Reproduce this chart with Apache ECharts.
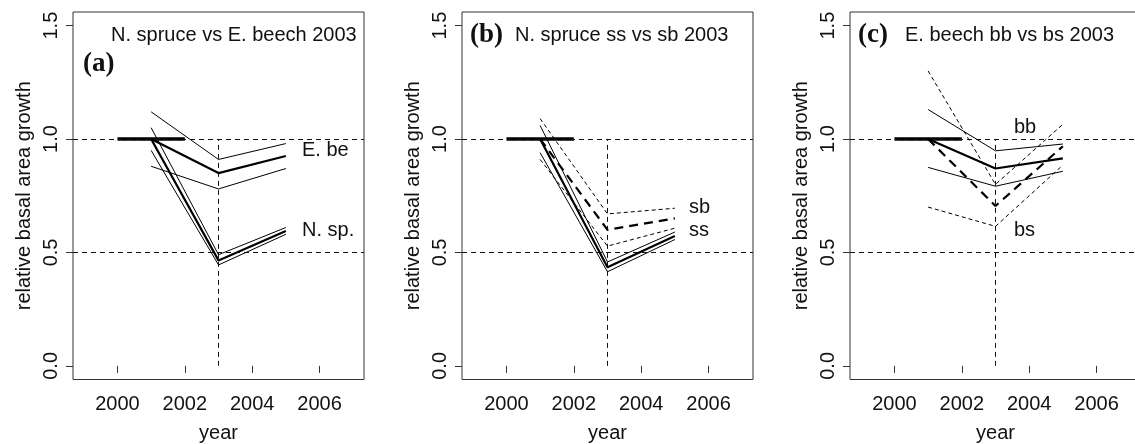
<!DOCTYPE html>
<html>
<head>
<meta charset="utf-8">
<script src="https://cdn.jsdelivr.net/npm/echarts@6/dist/echarts.min.js"></script>
<style>
html,body{margin:0;padding:0;background:#fff;}
#chart{width:1135px;height:444px;}
</style>
</head>
<body>
<div id="chart"></div>
<script>
// ---- data ----
const years = [2001, 2003, 2005];
const baseYears = [2000, 2002];
const baseValues = [1.0, 1.0];
const dropYear = 2003;
const refLevels = [1.0, 0.5];
const xTicks = [2000, 2002, 2004, 2006];
const yTicks = [0.0, 0.5, 1.0, 1.5];

// (a) N. spruce vs E. beech
const aBeechMean  = [1.00, 0.850, 0.925];
const aBeechUpper = [1.12, 0.910, 0.980];
const aBeechLower = [0.88, 0.780, 0.870];
const aSpruceMean  = [1.00, 0.465, 0.595];
const aSpruceUpper = [1.05, 0.490, 0.610];
const aSpruceLower = [0.95, 0.445, 0.580];

// (b) N. spruce ss vs sb
const bSsMean  = [1.00, 0.435, 0.573];
const bSsUpper = [1.06, 0.458, 0.590];
const bSsLower = [0.94, 0.415, 0.557];
const bSbMean  = [1.00, 0.600, 0.650];
const bSbUpper = [1.09, 0.670, 0.695];
const bSbLower = [0.91, 0.528, 0.607];

// (c) E. beech bb vs bs
const cBbMean  = [1.00, 0.870, 0.915];
const cBbUpper = [1.13, 0.948, 0.978];
const cBbLower = [0.875, 0.792, 0.858];
const cBsMean  = [1.00, 0.705, 0.968];
const cBsUpper = [1.30, 0.800, 1.065];
const cBsLower = [0.70, 0.615, 0.885];

const panelTitles = ['N. spruce vs E. beech 2003', 'N. spruce ss vs sb 2003', 'E. beech bb vs bs 2003'];
const panelTags = ['(a)', '(b)', '(c)'];
const xName = 'year';
const yName = 'relative basal area growth';

// ---- chart ----
const FONT = '"Liberation Sans", Arial, Helvetica, sans-serif';
const INK = '#111';
const FS = 20;
const grids = [
  {left: 73, top: 12, width: 291, height: 367.5},
  {left: 462, top: 12, width: 291, height: 367.5},
  {left: 850, top: 12, width: 291, height: 367.5}
];

function pairs(xs, ys) { return xs.map((x, i) => [x, ys[i]]); }

const xAxes = grids.map((g, i) => ({
  type: 'value', gridIndex: i, min: 1998.68, max: 2007.32,
  name: xName, nameLocation: 'middle', nameGap: 44,
  nameTextStyle: {fontFamily: FONT, fontSize: FS, color: INK},
  splitLine: {show: false}, axisLine: {show: false},
  axisTick: {show: true, length: 7, customValues: xTicks, lineStyle: {color: '#333', width: 1}},
  axisLabel: {customValues: xTicks, fontFamily: FONT, fontSize: FS, color: INK, margin: 15,
    formatter: v => String(Math.round(v))}
}));
const yAxes = grids.map((g, i) => ({
  type: 'value', gridIndex: i, min: -0.06, max: 1.56,
  name: yName, nameLocation: 'middle', nameGap: 39, nameRotate: 90,
  nameTextStyle: {fontFamily: FONT, fontSize: FS, color: INK},
  splitLine: {show: false}, axisLine: {show: false},
  axisTick: {show: true, length: 7, customValues: yTicks, lineStyle: {color: '#333', width: 1}},
  axisLabel: {customValues: yTicks, rotate: 90, fontFamily: FONT, fontSize: FS, color: INK, margin: 12,
    formatter: v => Number(v).toFixed(1)}
}));

const series = [];
function addLine(idx, data, width, type) {
  series.push({
    type: 'line', xAxisIndex: idx, yAxisIndex: idx, data: data,
    symbol: 'none', silent: true, animation: false,
    lineStyle: {color: '#000', width: width, type: type || 'solid'}
  });
}
const THIN_DASH = [4, 3];
const REF_DASH = [5, 4];
const THICK_DASH = [9, 6];

for (let i = 0; i < 3; i++) {
  // reference lines
  series.push({
    type: 'line', xAxisIndex: i, yAxisIndex: i, data: [[dropYear, 0], [dropYear, 1.0]],
    symbol: 'none', silent: true, animation: false,
    lineStyle: {color: '#111', width: 1, type: REF_DASH},
    markLine: {
      silent: true, symbol: ['none', 'none'], label: {show: false}, animation: false,
      lineStyle: {color: '#111', width: 1, type: REF_DASH},
      data: refLevels.map(v => ({yAxis: v}))
    }
  });
  addLine(i, pairs(baseYears, baseValues), 3.5);
}

// (a)
addLine(0, pairs(years, aBeechUpper), 1);
addLine(0, pairs(years, aBeechLower), 1);
addLine(0, pairs(years, aBeechMean), 2.2);
addLine(0, pairs(years, aSpruceUpper), 1);
addLine(0, pairs(years, aSpruceLower), 1);
addLine(0, pairs(years, aSpruceMean), 2.2);
// (b)
addLine(1, pairs(years, bSsUpper), 1);
addLine(1, pairs(years, bSsLower), 1);
addLine(1, pairs(years, bSsMean), 2.2);
addLine(1, pairs(years, bSbUpper), 1, THIN_DASH);
addLine(1, pairs(years, bSbLower), 1, THIN_DASH);
addLine(1, pairs(years, bSbMean), 2.2, THICK_DASH);
// (c)
addLine(2, pairs(years, cBbUpper), 1);
addLine(2, pairs(years, cBbLower), 1);
addLine(2, pairs(years, cBbMean), 2.2);
addLine(2, pairs(years, cBsUpper), 1, THIN_DASH);
addLine(2, pairs(years, cBsLower), 1, THIN_DASH);
addLine(2, pairs(years, cBsMean), 2.2, THICK_DASH);

function txt(x, y, s, size, family, weight) {
  return {type: 'text', x: x, y: y, silent: true, z: 100,
    style: {text: s, fill: INK, font: (weight || 'normal') + ' ' + size + 'px ' + family,
      textAlign: 'left', textVerticalAlign: 'middle'}};
}
const SERIF = '"Liberation Serif", "Times New Roman", serif';
const graphics = [
  txt(111, 35, panelTitles[0], FS, FONT),
  txt(83, 64, panelTags[0], 27, SERIF, 'bold'),
  txt(470, 35, panelTags[1], 27, SERIF, 'bold'),
  txt(515, 35, panelTitles[1], FS, FONT),
  txt(858, 35, panelTags[2], 27, SERIF, 'bold'),
  txt(905, 35, panelTitles[2], FS, FONT),
  txt(302, 150, 'E. be', FS, FONT),
  txt(302, 230, 'N. sp.', FS, FONT),
  txt(689, 207, 'sb', FS, FONT),
  txt(689, 230, 'ss', FS, FONT),
  txt(1014, 127, 'bb', FS, FONT),
  txt(1014, 230, 'bs', FS, FONT)
];

const chart = echarts.init(document.getElementById('chart'), null, {renderer: 'canvas'});
chart.setOption({
  backgroundColor: '#fff',
  animation: false,
  grid: grids.map(g => Object.assign({show: true, borderColor: '#333', borderWidth: 1, backgroundColor: 'transparent',
    containLabel: false, outerBoundsMode: 'none'}, g)),
  xAxis: xAxes,
  yAxis: yAxes,
  series: series,
  graphic: graphics
});
</script>
</body>
</html>
